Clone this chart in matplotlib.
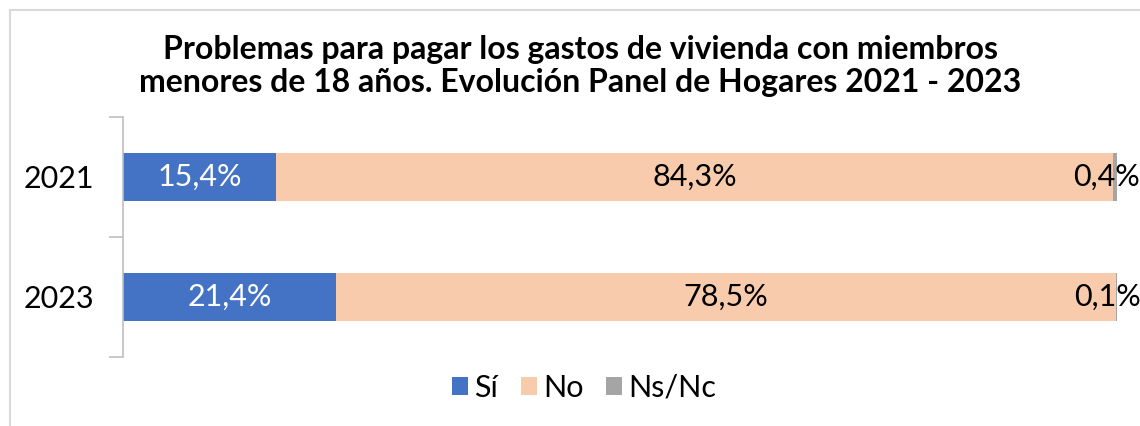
import matplotlib
matplotlib.use("Agg")
import matplotlib.pyplot as plt
from matplotlib.patches import Rectangle
import numpy as np

plt.rcParams['font.family'] = ['Lato', 'DejaVu Sans']

years = ["2021", "2023"]
series = ["Sí", "No", "Ns/Nc"]
si = [15.4, 21.4]
no = [84.3, 78.5]
nsnc = [0.4, 0.1]
labels_si = ["15,4%", "21,4%"]
labels_no = ["84,3%", "78,5%"]
labels_nsnc = ["0,4%", "0,1%"]
colors = ["#4472C4", "#F8CBAD", "#A5A5A5"]

W, H = 1140, 426
FS = 22
fig = plt.figure(figsize=(W / 100, H / 100), dpi=100)

# outer border
fig.patches.append(Rectangle((10 / W, -0.1), 1.2, (H - 10) / H + 0.1, transform=fig.transFigure,
                             fill=False, edgecolor="#D9D9D9", linewidth=1.5))

ax = fig.add_axes([123 / W, 1 - 357 / H, (1117 - 123) / W, (357 - 117) / H])

data = np.array([si, no, nsnc], dtype=float)
totals = data.sum(axis=0)
norm = data / totals * 100
ypos = np.arange(len(years))
left = np.zeros(len(years))
all_labels = [labels_si, labels_no, labels_nsnc]
txtcolors = ["white", "black", "black"]
offsets = [0, 0, -9]
for i, name in enumerate(series):
    bars = ax.barh(ypos, norm[i], left=left, height=0.4, color=colors[i], label=name,
                   edgecolor="none")
    for j, b in enumerate(bars):
        cx = left[j] + norm[i][j] / 2
        ax.annotate(all_labels[i][j], (cx, ypos[j]), xytext=(offsets[i], 0),
                    textcoords="offset pixels", ha="center", va="center",
                    color=txtcolors[i], fontsize=FS)
    left = left + norm[i]

ax.set_xlim(0, 100)
ax.set_ylim(len(years) - 0.5, -0.5)
ax.set_yticks([-0.5, 0.5, 1.5])
ax.set_yticks(ypos, minor=True)
ax.set_yticklabels([])
ax.set_yticklabels(years, minor=True, fontsize=FS)
ax.tick_params(axis="y", which="major", length=10, color="#BFBFBF", width=1.2)
ax.tick_params(axis="y", which="minor", length=0, pad=21)
ax.set_xticks([])
for s in ["top", "right", "bottom"]:
    ax.spines[s].set_visible(False)
ax.spines["left"].set_color("#BFBFBF")
ax.spines["left"].set_linewidth(1.2)

fig.text(0.509, 1 - 66 / H, "Problemas para pagar los gastos de vivienda con miembros\nmenores de 18 años. Evolución Panel de Hogares 2021 - 2023",
         ha="center", va="center", fontsize=23, fontweight="bold", linespacing=1.15)

fig.legend(loc="center", bbox_to_anchor=(584 / W, 1 - 388 / H), ncol=3, frameon=False,
           fontsize=FS, handlelength=0.52, handleheight=0.52, handletextpad=0.2, columnspacing=0.75)

fig.savefig("out.png", dpi=100)
